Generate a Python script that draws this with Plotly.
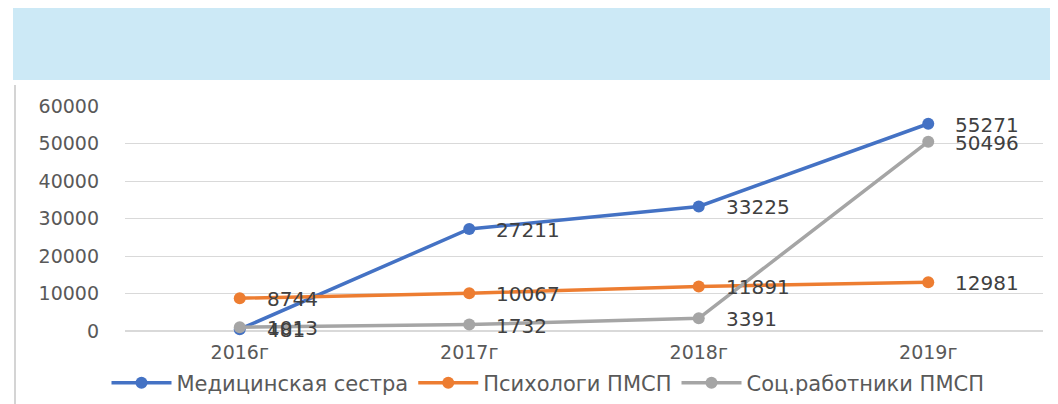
import plotly.graph_objects as go

years = ["2016г", "2017г", "2018г", "2019г"]
nurse = [481, 27211, 33225, 55271]
psych = [8744, 10067, 11891, 12981]
social = [1013, 1732, 3391, 50496]
names = ["Медицинская сестра", "Психологи ПМСП", "Соц.работники ПМСП"]
colors = ["#4472C4", "#ED7D31", "#A5A5A5"]
y_ticks = [0, 10000, 20000, 30000, 40000, 50000, 60000]

FONT = "DejaVu Sans"
W, H = 1058, 404
OFF = 8  # page body margin offset
# desired plot area in screen pixels: x 125..1043, y 106..331
L = 125 - OFF
T = 106 - OFF
R = W - (1043 - OFF)
B = H - (331 - OFF)
pw, ph = W - L - R, H - T - B

def px_x(x):
    return (x - OFF - L) / pw

def px_y(y):
    return (H - B - (y - OFF)) / ph

fig = go.Figure()
for name, vals, col in zip(names, [nurse, psych, social], colors):
    fig.add_trace(go.Scatter(
        x=years, y=vals, name=name, mode="lines+markers",
        line=dict(color=col, width=3.5),
        marker=dict(color=col, size=12),
        cliponaxis=False,
    ))

annotations = []
for vals in [nurse, psych, social]:
    for x, v in zip(years, vals):
        annotations.append(dict(
            x=x, y=v, xref="x", yref="y", text=str(v), showarrow=False,
            xanchor="left", yanchor="middle", xshift=25, yshift=-1,
            font=dict(family=FONT, size=20, color="#404040"),
        ))

shapes = [
    dict(type="rect", xref="paper", yref="paper", layer="below",
         x0=px_x(13), x1=px_x(1070), y0=px_y(80), y1=px_y(7),
         fillcolor="#CCE9F6", line=dict(width=0)),
    dict(type="line", xref="paper", yref="paper",
         x0=px_x(15), x1=px_x(15), y0=px_y(85), y1=px_y(420),
         line=dict(color="#D4D4D4", width=2)),
]

fig.update_layout(
    width=W, height=H,
    margin=dict(l=L, r=R, t=T, b=B, autoexpand=False),
    paper_bgcolor="white", plot_bgcolor="white",
    font=dict(family=FONT, size=18, color="#595959"),
    showlegend=True,
    legend=dict(orientation="h", x=px_x(548), xanchor="center", y=px_y(383), yanchor="middle",
                font=dict(family=FONT, size=21, color="#595959"), itemwidth=60,
                traceorder="normal"),
    annotations=annotations,
    shapes=shapes,
)
fig.update_xaxes(type="category", range=[-0.5, 3.5], showgrid=False, showline=False,
                 ticks="", ticklabelstandoff=8,
                 tickfont=dict(family=FONT, size=19, color="#595959"))
fig.update_yaxes(range=[0, 60000], tickvals=y_ticks, ticktext=[str(v) for v in y_ticks],
                 showgrid=True, gridcolor="#D9D9D9",
                 gridwidth=1, zeroline=True, zerolinecolor="#D9D9D9", showline=False,
                 ticks="", ticklen=0, tickfont=dict(family=FONT, size=19, color="#595959"),
                 ticklabelstandoff=25)

fig.write_html("out.html")
